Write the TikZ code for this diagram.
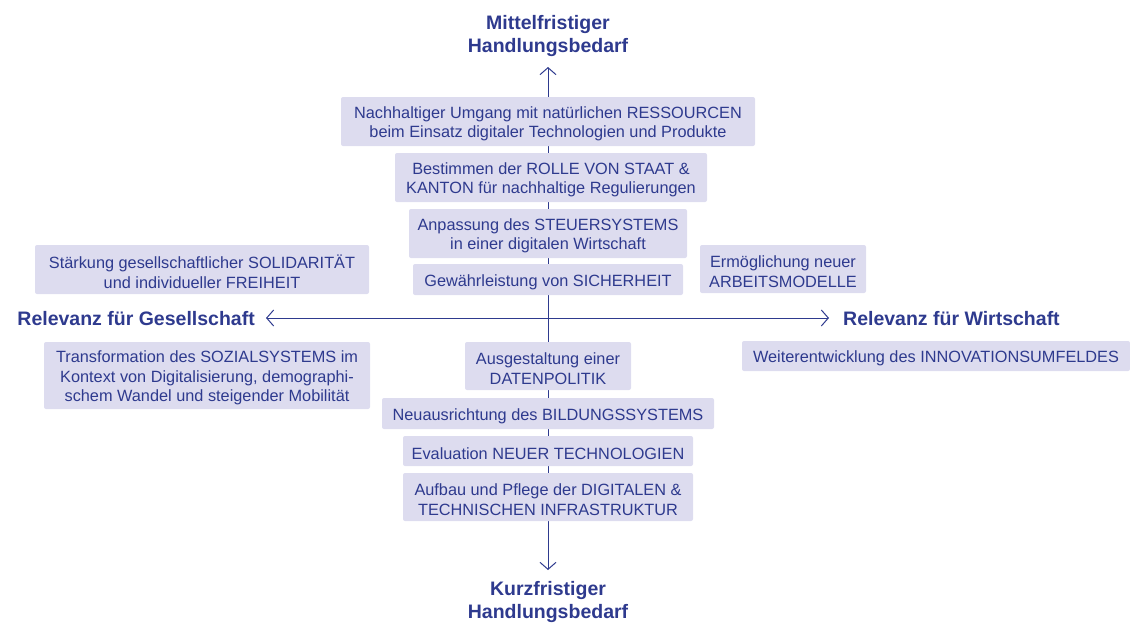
\documentclass[tikz,border=0pt]{standalone}
\usepackage{fontspec}
\setmainfont{Liberation Sans}
\usetikzlibrary{arrows.meta}
\definecolor{ink}{HTML}{2E3A8E}
\definecolor{boxfill}{HTML}{DDDCEF}
\tikzset{
  itembox/.style={fill=boxfill, draw=none, rounded corners=2pt, align=center, text=ink,
    font=\fontsize{16.3}{19.5}\selectfont, inner sep=0pt},
  itemtext/.style={itembox, fill=none},
  axislabel/.style={text=ink, font=\bfseries\fontsize{19.5}{23}\selectfont, align=center, inner sep=0pt},
  axis/.style={draw=ink, line width=1pt, {Straight Barb[length=7pt,width=16pt]}-{Straight Barb[length=7pt,width=16pt]}}
}
\newcommand{\bx}[6]{% name, x1, y1, x2, y2, text
  \node[itembox, minimum width={#4-#2}, minimum height={#5-#3}] (#1) at ({(#2+#4)/2},{(#3+#5)/2}) {};
  \node[itemtext] (#1-text) at ({(#2+#4)/2},{(#3+#5)/2+2.5}) {#6};}
\begin{document}
\begin{tikzpicture}[x=1pt,y=-1pt]
\useasboundingbox (0,0) rectangle (1130,622);
\coordinate (vtop) at (548,67);
\coordinate (vbot) at (548,570);
\coordinate (hleft) at (266,318);
\coordinate (hright) at (829,318);
\draw[axis] (vtop) -- (vbot);
\draw[axis] (hleft) -- (hright);
\bx{res}{341}{97}{755}{146}{Nachhaltiger Umgang mit natürlichen RESSOURCEN\\beim Einsatz digitaler Technologien und Produkte}
\bx{staat}{395}{153}{707}{202}{Bestimmen der ROLLE VON STAAT \&\\KANTON für nachhaltige Regulierungen}
\bx{steuer}{409}{209}{687}{258}{Anpassung des STEUERSYSTEMS\\in einer digitalen Wirtschaft}
\bx{sich}{413}{264}{683}{295}{Gewährleistung von SICHERHEIT}
\bx{daten}{465}{342}{631}{390}{Ausgestaltung einer\\DATENPOLITIK}
\bx{bild}{382}{398}{714}{429}{Neuausrichtung des BILDUNGSSYSTEMS}
\bx{tech}{403}{436}{693}{466}{Evaluation NEUER TECHNOLOGIEN}
\bx{infra}{403}{473}{693}{521}{Aufbau und Pflege der DIGITALEN \&\\TECHNISCHEN INFRASTRUKTUR}
\bx{soli}{35}{245}{369}{294}{Stärkung gesellschaftlicher SOLIDARITÄT\\und individueller FREIHEIT}
\bx{sozial}{44}{342}{370}{409}{Transformation des SOZIALSYSTEMS im\\Kontext von Digitalisierung, demographi-\\schem Wandel und steigender Mobilität}
\bx{arbeit}{700}{245}{866}{293}{Ermöglichung neuer\\ARBEITSMODELLE}
\bx{innov}{742}{341}{1130}{371}{Weiterentwicklung des INNOVATIONSUMFELDES}
\node[axislabel] (top) at (548,36) {Mittelfristiger\\Handlungsbedarf};
\node[axislabel] (bot) at (548,602) {Kurzfristiger\\Handlungsbedarf};
\node[axislabel, anchor=east] (left) at (255,319) {Relevanz für Gesellschaft};
\node[axislabel, anchor=west] (right) at (843,319) {Relevanz für Wirtschaft};
\end{tikzpicture}
\end{document}
